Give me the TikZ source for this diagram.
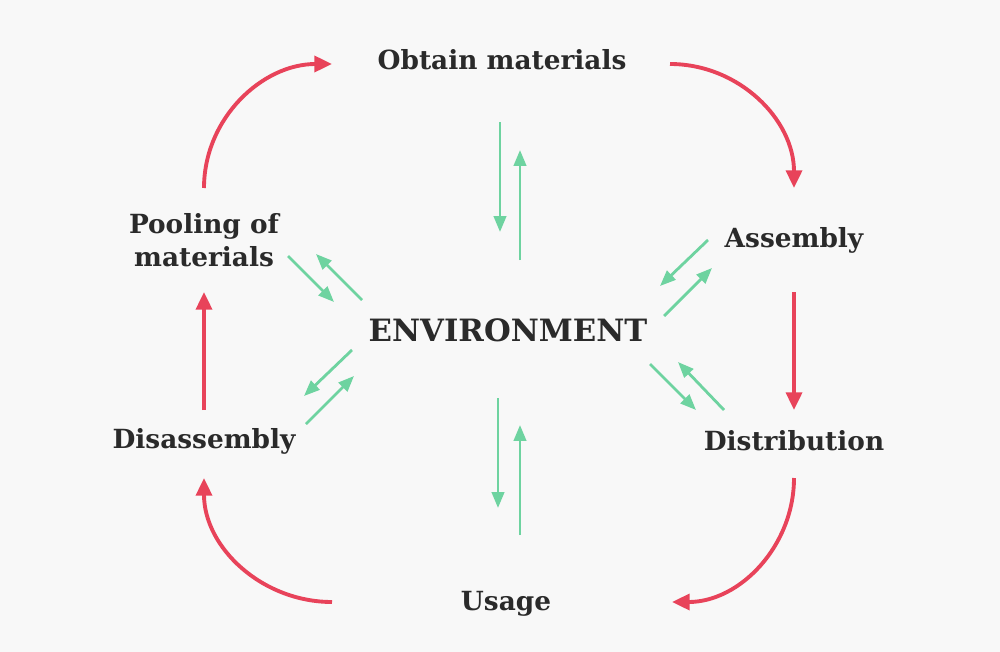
\documentclass[tikz,border=0pt]{standalone}
\usepackage{fontspec}
\setmainfont{DejaVu Serif}
\usetikzlibrary{arrows.meta}
\definecolor{bg}{HTML}{F8F8F8}
\definecolor{redc}{HTML}{E8435A}
\definecolor{grn}{HTML}{6ED3A0}
\definecolor{txt}{HTML}{2A2A2A}
\begin{document}
\begin{tikzpicture}[x=0.02cm,y=-0.02cm,
  lab/.style={font=\bfseries\fontsize{15}{19}\selectfont,text=txt,align=center,inner sep=0},
  red/.style={draw=redc,line width=2.2pt,-{Triangle[length=10pt,width=9pt]}},
  gr/.style={draw=grn,line width=1.6pt,-{Triangle[length=9pt,width=7pt]}}]
\fill[bg] (0,0) rectangle (1000,652);
\useasboundingbox (0,0) rectangle (1000,652);
\node[lab] (obt) at (502,60) {Obtain materials};
\node[lab] (ass) at (794,240) {Assembly};
\node[lab] (dis) at (794,441) {Distribution};
\node[lab] (usa) at (506,604) {Usage};
\node[lab] (dsa) at (204,441) {Disassembly};
\node[lab] (poo) at (204,240) {Pooling of\\materials};
\node[lab,font=\bfseries\fontsize{17.5}{21}\selectfont] (env) at (508,330) {ENVIRONMENT};
% red cycle
\coordinate (r1a) at (204,188); \coordinate (r1b) at (332,64);
\coordinate (r2a) at (670,64);  \coordinate (r2b) at (794,188);
\coordinate (r3a) at (794,292); \coordinate (r3b) at (794,410);
\coordinate (r4a) at (794,478); \coordinate (r4b) at (672,602);
\coordinate (r5a) at (332,602); \coordinate (r5b) at (204,478);
\coordinate (r6a) at (204,410); \coordinate (r6b) at (204,292);
\draw[red] (r1a) to[out=90,in=180] (r1b);
\draw[red] (r2a) to[out=0,in=90] (r2b);
\draw[red] (r3a) -- (r3b);
\draw[red] (r4a) to[out=-90,in=0] (r4b);
\draw[red] (r5a) to[out=180,in=-90] (r5b);
\draw[red] (r6a) -- (r6b);
% green pairs
\coordinate (g1a) at (500,122); \coordinate (g1b) at (500,232);
\coordinate (g2a) at (520,260); \coordinate (g2b) at (520,150);
\coordinate (g3a) at (498,398); \coordinate (g3b) at (498,508);
\coordinate (g4a) at (520,535); \coordinate (g4b) at (520,425);
\coordinate (g5a) at (288,256); \coordinate (g5b) at (334,302);
\coordinate (g6a) at (362,300); \coordinate (g6b) at (316,254);
\coordinate (g7a) at (708,240); \coordinate (g7b) at (660,286);
\coordinate (g8a) at (664,316); \coordinate (g8b) at (712,268);
\coordinate (g9a) at (352,350); \coordinate (g9b) at (304,396);
\coordinate (g10a) at (306,424); \coordinate (g10b) at (354,376);
\coordinate (g11a) at (650,364); \coordinate (g11b) at (696,410);
\coordinate (g12a) at (724,410); \coordinate (g12b) at (678,362);
\foreach \i in {1,...,12} {\draw[gr] (g\i a) -- (g\i b);}
\end{tikzpicture}
\end{document}
